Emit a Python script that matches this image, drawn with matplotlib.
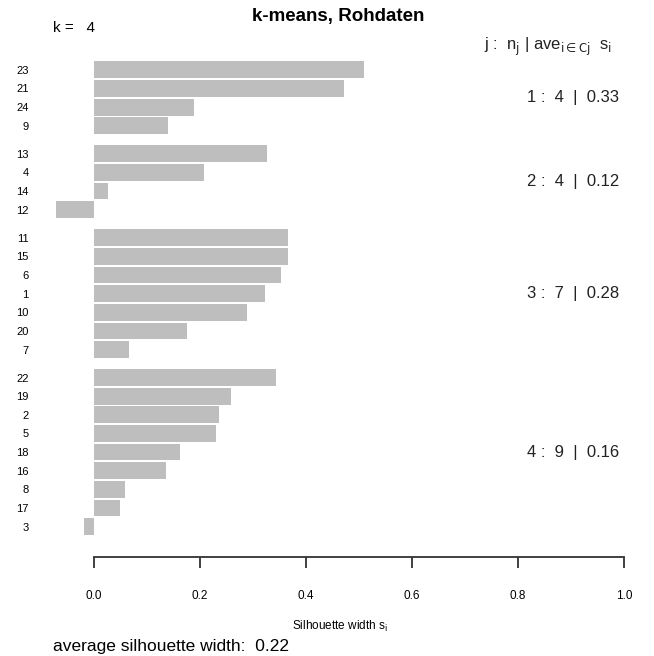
import numpy as np
import matplotlib
matplotlib.use("Agg")
import matplotlib.pyplot as plt

plt.rcParams['font.family'] = ['Liberation Sans', 'DejaVu Sans']

# silhouette widths per cluster, sorted descending within cluster (top to bottom)
clusters = [1, 2, 3, 4]
obs_labels = [
    ['23', '21', '24', '9'],
    ['13', '4', '14', '12'],
    ['11', '15', '6', '1', '10', '20', '7'],
    ['22', '19', '2', '5', '18', '16', '8', '17', '3'],
]
sil_widths = [
    [0.510, 0.471, 0.188, 0.140],
    [0.326, 0.208, 0.027, -0.072],
    [0.365, 0.366, 0.352, 0.323, 0.288, 0.175, 0.066],
    [0.343, 0.259, 0.236, 0.230, 0.163, 0.136, 0.059, 0.050, -0.018],
]
cluster_avg = ['0.33', '0.12', '0.28', '0.16']
avg_width = '0.22'
xticks = [0.0, 0.2, 0.4, 0.6, 0.8, 1.0]

BAR_COLOR = '#bebebe'
GAP = 0.5

fig = plt.figure(figsize=(6.54, 6.56), dpi=100)
W, H = 654, 656
ax = fig.add_axes([33 / W, (H - 557) / H, (647 - 33) / W, (557 - 40) / H])

# positions: top bar is highest y
n_total = sum(len(c) for c in sil_widths)
top = n_total + GAP * (len(sil_widths) - 1)
y = top
ypos, ylabs, vals, centers = [], [], [], []
for labs, s in zip(obs_labels, sil_widths):
    start = y
    for lab, v in zip(labs, s):
        ypos.append(y - 0.5)
        ylabs.append(lab)
        vals.append(v)
        y -= 1
    centers.append((start + y) / 2)
    y -= GAP

ax.barh(ypos, vals, height=0.9, color=BAR_COLOR, edgecolor='none')

ax.set_xlim(-0.115, 1.043)
ax.set_ylim(-1.125, top + 1.1)

for sp in ['left', 'right', 'top']:
    ax.spines[sp].set_visible(False)
ax.spines['bottom'].set_bounds(0, 1)
ax.spines['bottom'].set_color('#333333')
ax.spines['bottom'].set_linewidth(1.3)

ax.set_xticks(xticks)
ax.set_xticklabels([f'{t:.1f}' for t in xticks], fontsize=8.5)
ax.tick_params(axis='x', length=8, width=1.3, color='#333333', pad=16)

ax.set_yticks(ypos)
ax.set_yticklabels(ylabs, fontsize=8)
ax.tick_params(axis='y', length=0, pad=3)

ax.set_xlabel(r'Silhouette width s$_\mathrm{i}$', fontsize=8.5, labelpad=12)

# cluster summaries
for j, c, avg, s in zip(clusters, centers, cluster_avg, sil_widths):
    ax.text(0.99, c, f'{j} :  {len(s)}  |  {avg}', ha='right', va='center',
            fontsize=12, color='#222222')

fig.text(0.935, (H - 47) / H,
         r'j :  n$_\mathrm{j}$ | ave$_{\mathrm{i\in Cj}}$  s$_\mathrm{i}$',
         ha='right', va='center', fontsize=12, color='#222222')

fig.text(338 / W, (H - 16) / H, 'k-means, Rohdaten', ha='center', va='center',
         fontsize=13.5, fontweight='bold')
fig.text(53 / W, (H - 28) / H, 'k =   4', ha='left', va='center', fontsize=11)
fig.text(53 / W, (H - 646) / H, f'average silhouette width:  {avg_width}',
         ha='left', va='center', fontsize=12.5)

fig.savefig('out.png', dpi=100)
